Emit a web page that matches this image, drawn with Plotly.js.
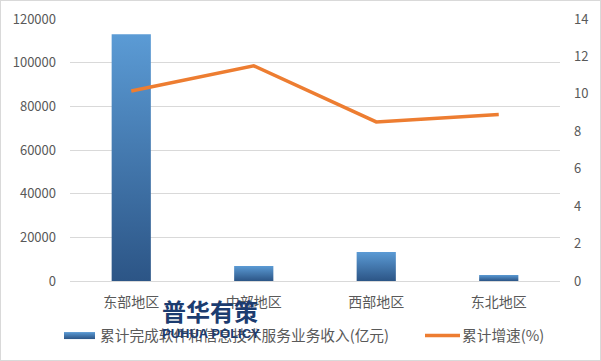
<!DOCTYPE html>
<html><head><meta charset="utf-8">
<script src="https://cdn.plot.ly/plotly-3.0.1.min.js"></script>
<style>html,body{margin:0;padding:0;background:#fff}#c{width:601px;height:361px;box-sizing:border-box;border:1px solid #d9d9d9}</style>
</head><body><div id="c"></div>
<script>
const categories = ['东部地区','中部地区','西部地区','东北地区'];
const revenue = [113000, 6900, 13300, 2800];
const growth = [10.15, 11.5, 8.5, 8.9];
const seriesNames = ['累计完成软件和信息技术服务业务收入(亿元)', '累计增速(%)'];
const leftTicks = [0,20000,40000,60000,80000,100000,120000];
const rightTicks = [0,2,4,6,8,10,12,14];

const font = 'Noto Sans CJK SC, Microsoft YaHei, sans-serif';
const data = [
  {type:'bar', x:categories, y:revenue, name:seriesNames[0], marker:{color:'#3f76ad'}, width:0.32},
  {type:'scatter', mode:'lines', x:categories, y:growth, name:seriesNames[1], yaxis:'y2', line:{color:'#ed7d31', width:3.5}}
];
const layout = {
  width:599, height:359,
  margin:{l:69, r:40, t:18, b:79, autoexpand:false},
  paper_bgcolor:'#fff', plot_bgcolor:'#fff',
  font:{family:font, color:'#595959', size:13},
  showlegend:true,
  legend:{orientation:'h', x:(59-69)/490, xanchor:'left', y:(281-18-336+18)/262, yanchor:'middle', font:{size:14.7, color:'#595959'}, itemwidth:30, bgcolor:'rgba(0,0,0,0)'},
  xaxis:{type:'category', tickfont:{size:14}, showline:true, linecolor:'#d9d9d9', ticks:'', ticklabelstandoff:8, automargin:false},
  yaxis:{range:[0,120000], tickvals:leftTicks, ticktext:leftTicks.map(String), gridcolor:'#d9d9d9', zeroline:false, ticklabelstandoff:13, tickfont:{size:13}, automargin:false},
  yaxis2:{range:[0,14], tickvals:rightTicks, overlaying:'y', side:'right', showgrid:false, zeroline:false, ticklabelstandoff:13, tickfont:{size:13}, automargin:false},
  annotations:[
    {text:'<b>普华有策</b>', xref:'paper', yref:'paper', x:(209-69)/490, y:(281-310)/262, xanchor:'center', yanchor:'middle', showarrow:false, font:{size:24, color:'#1c3c70', family:font}},
    {text:'<b>PUHUA POLICY</b>', xref:'paper', yref:'paper', x:(210-69)/490, y:(281-333)/262, xanchor:'center', yanchor:'middle', showarrow:false, font:{size:13, color:'#1c3c70', family:'Liberation Sans, Arial'}}
  ]
};
Plotly.newPlot('c', data, layout, {displayModeBar:false, staticPlot:true}).then(function(){
  const svg = document.querySelector('#c svg.main-svg');
  const ns = 'http://www.w3.org/2000/svg';
  let defs = svg.querySelector('defs');
  const g = document.createElementNS(ns,'linearGradient');
  g.setAttribute('id','barGrad'); g.setAttribute('x1','0'); g.setAttribute('y1','0'); g.setAttribute('x2','0'); g.setAttribute('y2','1');
  [['0%','#5b9bd5'],['100%','#2c5586']].forEach(function(s){const st=document.createElementNS(ns,'stop');st.setAttribute('offset',s[0]);st.setAttribute('stop-color',s[1]);g.appendChild(st);});
  defs.appendChild(g);
  document.querySelectorAll('#c .barlayer .point path').forEach(function(p){p.style.fill='url(#barGrad)';});
  const traces = document.querySelectorAll('#c .legend .traces');
  if (traces[0]) {
    traces[0].querySelectorAll('.legendpoints path').forEach(function(p){
      p.setAttribute('d','M-16,3.5H15V-3.5H-16Z'); p.style.fill='url(#barGrad)'; p.style.stroke='none';
    });
  }
  if (traces[1]) {
    traces[1].querySelectorAll('.legendlines path').forEach(function(p){ p.setAttribute('d','M3,0h35'); });
  }
  if (traces[0] && traces[1]) {
    const m0 = /translate\(\s*([-\d.]+)[ ,]+([-\d.]+)/.exec(traces[0].getAttribute('transform') || '');
    const m1 = /translate\(\s*([-\d.]+)[ ,]+([-\d.]+)/.exec(traces[1].getAttribute('transform') || '');
    if (m0 && m1) traces[1].setAttribute('transform', 'translate(' + (parseFloat(m0[1]) + 362) + ',' + m1[2] + ')');
  }
  document.querySelectorAll('#c .legend, #c .legend .scrollbox, #c .legend .groups').forEach(function(el){ el.removeAttribute('clip-path'); });
  const leg = document.querySelector('#c .legend');
  if (leg && leg.parentNode) leg.parentNode.insertBefore(leg, leg.parentNode.firstChild);
});
</script></body></html>
